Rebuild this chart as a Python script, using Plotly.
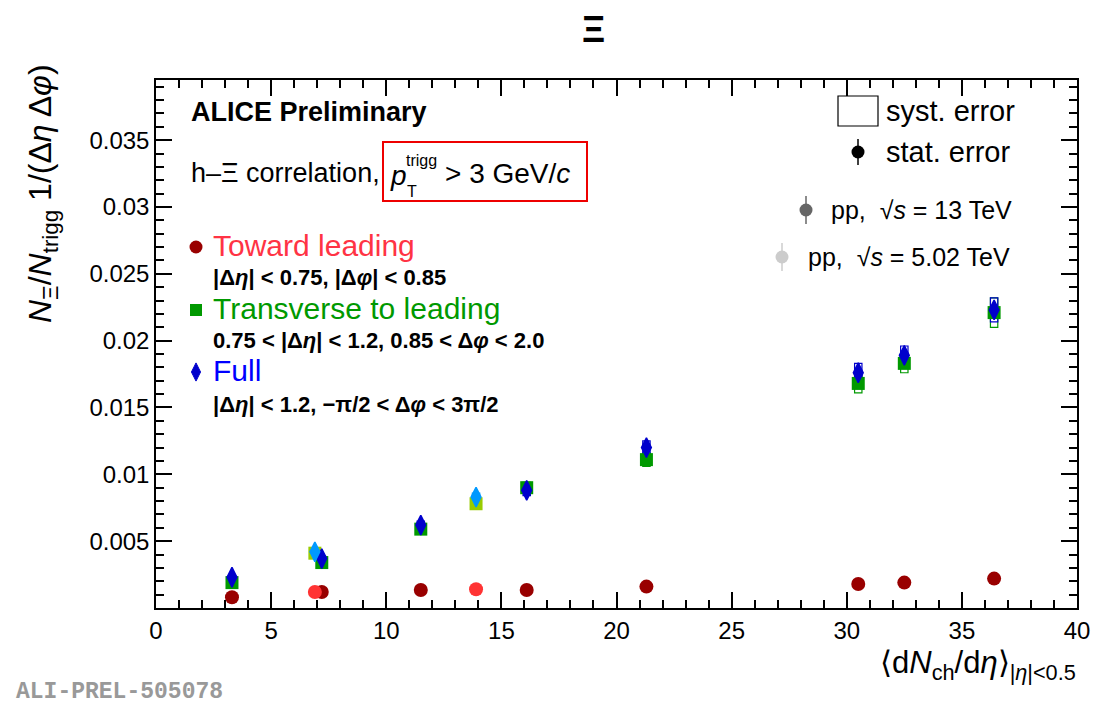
import plotly.graph_objects as go

# ---- data: h-Xi per-trigger yields vs charged-particle multiplicity ----
# pp, sqrt(s) = 13 TeV
mult_13 = [3.3, 7.2, 11.5, 16.1, 21.3, 30.5, 32.5, 36.4]
toward_13 = [0.0008, 0.0012, 0.00135, 0.00135, 0.0016, 0.0018, 0.0019, 0.0022]
transverse_13 = [0.0019, 0.0034, 0.0059, 0.0090, 0.0111, 0.0168, 0.0183, 0.0221]
full_13 = [0.0023, 0.0037, 0.0062, 0.0088, 0.0120, 0.0176, 0.0189, 0.0223]
toward_13_stat = [0.00005, 0.00005, 0.00005, 0.00005, 0.00006, 0.00008, 0.00008, 0.0001]
transverse_13_stat = [0.0001, 0.0001, 0.0001, 0.0001, 0.0001, 0.0002, 0.0002, 0.0003]
full_13_stat = [0.0001, 0.0001, 0.0001, 0.0001, 0.0001, 0.0002, 0.0002, 0.0003]
toward_13_syst = [0.00005, 0.00006, 0.00007, 0.00007, 0.00008, 0.0001, 0.0001, 0.0001]
transverse_13_syst = [0.0001, 0.0002, 0.0003, 0.0004, 0.0005, 0.0007, 0.0007, 0.0011]
full_13_syst = [0.0001, 0.0002, 0.0003, 0.0004, 0.0005, 0.0007, 0.0007, 0.0009]

# pp, sqrt(s) = 5.02 TeV
mult_5 = [6.9, 13.9]
toward_5 = [0.0012, 0.0014]
transverse_5 = [0.0041, 0.0078]
full_5 = [0.0042, 0.0083]
toward_5_stat = [0.00005, 0.00006]
transverse_5_stat = [0.0001, 0.0001]
full_5_stat = [0.0001, 0.0001]
toward_5_syst = [0.00006, 0.00007]
transverse_5_syst = [0.0002, 0.0003]
full_5_syst = [0.0002, 0.0003]

x_ticks = [0, 5, 10, 15, 20, 25, 30, 35, 40]
y_ticks = [0.005, 0.01, 0.015, 0.02, 0.025, 0.03, 0.035]
y_tick_text = ["0.005", "0.01", "0.015", "0.02", "0.025", "0.03", "0.035"]

# ---- styling ----
FONT = "Liberation Sans"
W, H = 1110, 704
L, R, T, B = 156, 33, 80, 96
PW, PH = W - L - R, H - T - B
SYST_HALF_WIDTH = 0.16

DARK_RED, LIGHT_RED = "#990000", "#ff3333"
DARK_GREEN, LIGHT_GREEN = "#009900", "#99cc00"
DARK_BLUE, LIGHT_BLUE = "#0000cc", "#0099ff"


def fx(px):
    """pixel x -> paper fraction"""
    return (px - L) / PW


def fy(py):
    """pixel y -> paper fraction"""
    return (H - B - py) / PH


fig = go.Figure()
shapes = []


def add_series(x, y, stat, syst, color, symbol, size, line_w=0):
    for xi, yi, si in zip(x, y, syst):
        shapes.append(dict(type="rect", xref="x", yref="y",
                           x0=xi - SYST_HALF_WIDTH, x1=xi + SYST_HALF_WIDTH,
                           y0=yi - si, y1=yi + si,
                           line=dict(color=color, width=1.2), fillcolor="rgba(0,0,0,0)",
                           layer="below"))
    fig.add_trace(go.Scatter(
        x=x, y=y, mode="markers",
        error_y=dict(type="data", array=stat, color=color, thickness=1.2, width=0),
        marker=dict(color=color, symbol=symbol, size=size,
                    line=dict(color=color, width=line_w)),
        showlegend=False, hoverinfo="skip"))


add_series(mult_13, transverse_13, transverse_13_stat, transverse_13_syst, DARK_GREEN, "square", 13)
add_series(mult_5, transverse_5, transverse_5_stat, transverse_5_syst, LIGHT_GREEN, "square", 13)
add_series(mult_13, full_13, full_13_stat, full_13_syst, DARK_BLUE, "diamond-tall", 14, 1.5)
add_series(mult_5, full_5, full_5_stat, full_5_syst, LIGHT_BLUE, "diamond-tall", 14, 1.5)
add_series(mult_13, toward_13, toward_13_stat, toward_13_syst, DARK_RED, "circle", 14)
add_series(mult_5, toward_5, toward_5_stat, toward_5_syst, LIGHT_RED, "circle", 14)

# ---- legend markers drawn on an overlay axis spanning the frame ----
def legend_marker(px, py, color, symbol, size, err=0, line_w=0):
    fig.add_trace(go.Scatter(
        x=[fx(px)], y=[fy(py)], xaxis="x2", yaxis="y2", mode="markers",
        marker=dict(color=color, symbol=symbol, size=size, line=dict(color=color, width=line_w)),
        error_y=dict(type="constant", value=err / PH, color=color, thickness=1.5, width=0,
                     visible=err > 0),
        showlegend=False, hoverinfo="skip"))


legend_marker(196, 247, DARK_RED, "circle", 13)
legend_marker(196, 310, DARK_GREEN, "square", 12)
legend_marker(196, 372, DARK_BLUE, "diamond-tall", 13, line_w=1)
legend_marker(858, 152, "black", "circle", 13, err=13)
legend_marker(806, 210, "#666666", "circle", 13, err=14)
legend_marker(782, 257, "#cccccc", "circle", 13, err=14)

# syst. error legend box
shapes.append(dict(type="rect", xref="paper", yref="paper",
                   x0=fx(838), x1=fx(878), y0=fy(126), y1=fy(96),
                   line=dict(color="black", width=1.2)))
# red frame around the trigger condition
shapes.append(dict(type="rect", xref="paper", yref="paper",
                   x0=fx(383), x1=fx(587), y0=fy(201), y1=fy(142),
                   line=dict(color="#ee0000", width=2)))

annotations = []


def text(px, py, s, size, color="black", xanchor="left", yanchor="middle", angle=0, family=FONT):
    annotations.append(dict(x=fx(px), y=fy(py), xref="paper", yref="paper", text=s,
                            showarrow=False, xanchor=xanchor, yanchor=yanchor,
                            textangle=angle, font=dict(family=family, size=size, color=color)))


text(593, 30, "<b>Ξ</b>", 36, xanchor="center")
text(189, 112, "<b>ALICE Preliminary</b>", 27)
text(189, 173, "h–Ξ correlation,", 27)
text(388, 176, "<i>p</i>", 28)
text(404, 160, "trigg", 16)
text(405, 191, "T", 16)
text(443, 173, "> 3 GeV/<i>c</i>", 28)

text(211, 245, "Toward leading", 30, color="#ff3344")
text(211, 277, "<b>|Δ<i>η</i>| &lt; 0.75, |Δ<i>φ</i>| &lt; 0.85</b>", 22)
text(211, 308, "Transverse to leading", 30, color=DARK_GREEN)
text(211, 340, "<b>0.75 &lt; |Δ<i>η</i>| &lt; 1.2, 0.85 &lt; Δ<i>φ</i> &lt; 2.0</b>", 22)
text(211, 370, "Full", 30, color="#0000ff")
text(211, 404, "<b>|Δ<i>η</i>| &lt; 1.2, −π/2 &lt; Δ<i>φ</i> &lt; 3π/2</b>", 22)

text(884, 111, "syst. error", 29)
text(884, 152, "stat. error", 29)
text(829, 210, "pp,  √<i>s</i> = 13 TeV", 25)
text(806, 257, "pp,  √<i>s</i> = 5.02 TeV", 25)

text(42, 194, "<i>N</i><sub>Ξ</sub>/<i>N</i><sub>trigg</sub> 1/(Δ<i>η</i> Δ<i>φ</i>)",
     32, xanchor="center", angle=-90)
text(1078, 665, "⟨d<i>N</i><sub>ch</sub>/d<i>η</i>⟩<sub>|<i>η</i>|&lt;0.5</sub>",
     31, xanchor="right")
text(14, 692, "<b>ALI-PREL-505078</b>", 23, color="#999999", family="Liberation Mono")

axis_common = dict(showgrid=False, zeroline=False, showline=True, linecolor="black",
                   linewidth=1.5, mirror="ticks", ticks="inside", tickwidth=1.5,
                   tickcolor="black", tickfont=dict(family=FONT, size=24, color="black"))

fig.update_layout(
    width=W, height=H,
    margin=dict(l=L, r=R, t=T, b=B, pad=0),
    paper_bgcolor="white", plot_bgcolor="white",
    xaxis=dict(range=[0, 40], tickvals=x_ticks, ticklen=16,
               minor=dict(dtick=1, ticklen=8, ticks="inside", tickcolor="black", tickwidth=1.5),
               **axis_common),
    yaxis=dict(range=[0, 0.0395], tickvals=y_ticks, ticktext=y_tick_text, ticklen=16,
               minor=dict(dtick=0.001, ticklen=8, ticks="inside", tickcolor="black", tickwidth=1.5),
               **axis_common),
    xaxis2=dict(overlaying="x", range=[0, 1], visible=False, fixedrange=True),
    yaxis2=dict(overlaying="y", range=[0, 1], visible=False, fixedrange=True),
    shapes=shapes,
    annotations=annotations,
    showlegend=False,
)

fig.write_html("out.html")
